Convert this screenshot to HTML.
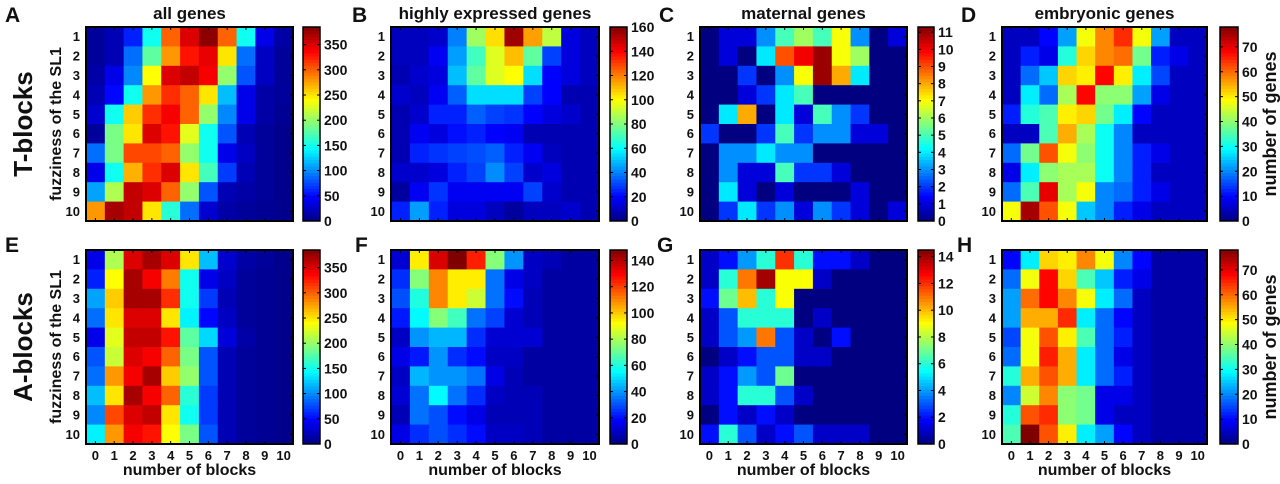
<!DOCTYPE html>
<html><head><meta charset="utf-8"><style>
body{margin:0;background:#fff;width:1280px;height:479px;overflow:hidden;font-family:"Liberation Sans",Arial,sans-serif}
svg text{font-family:"Liberation Sans",Arial,sans-serif;font-weight:bold;fill:#111}
</style></head><body>
<svg id="fig" width="1280" height="479" xmlns="http://www.w3.org/2000/svg"></svg>
<script>
const cols=[0,1,2,3,4,5,6,7,8,9,10];
const rowsLbl=[1,2,3,4,5,6,7,8,9,10];
const dataA=[[10,20,60,150,300,350,380,300,150,40,15],[10,20,90,180,280,330,345,250,90,25,10],[15,40,100,240,350,360,340,200,80,25,10],[20,50,150,280,320,300,250,120,40,15,10],[30,150,260,320,340,300,200,100,40,15,8],[10,190,250,350,330,230,150,80,20,10,5],[90,190,310,310,300,200,150,40,25,10,5],[40,150,270,320,350,250,170,70,20,10,5],[110,210,360,350,300,200,80,20,15,10,5],[280,370,360,250,160,90,30,15,10,8,5]];
const dataB=[[10,10,12,40,85,105,155,115,90,15,10],[10,10,18,45,70,95,110,75,30,15,10],[8,12,15,50,75,95,100,55,20,15,10],[12,10,18,35,55,55,55,30,20,8,8],[8,12,25,25,35,30,28,20,15,12,8],[8,18,15,22,25,20,18,8,8,8,8],[8,25,28,30,32,35,25,18,10,8,8],[12,12,15,25,30,42,30,12,15,8,8],[5,18,28,18,18,18,18,30,12,8,8],[25,45,25,15,15,10,5,10,10,12,8]];
const dataC=[[0,1,1,3,5,6,5,7,3,0,1],[0,1,0,4,9,10,11,7,6,0,0],[0,0,2,0,3,7,11,8,4,0,0],[0,0,1,2,4,5,0,0,0,0,0],[0,4,8,0,4,1,5,3,2,0,0],[2,0,0,2,5,2,3,3,1,1,0],[0,3,3,4,3,3,0,0,0,0,0],[0,3,1,1,5,2,2,1,0,0,0],[0,4,1,0,1,0,0,0,1,0,0],[0,2,4,2,3,1,3,2,1,0,1]];
const dataD=[[5,5,10,22,48,58,65,48,22,5,5],[5,12,8,32,52,58,60,38,12,8,5],[5,18,25,52,50,68,50,28,15,5,5],[5,28,18,42,68,40,40,22,8,5,5],[12,32,35,50,52,38,28,10,5,5,5],[5,5,35,55,42,30,20,5,5,5,5],[18,38,62,48,40,30,20,12,8,5,5],[8,28,40,42,42,30,20,12,5,5,5],[18,35,70,42,48,20,18,12,8,5,5],[48,75,62,48,25,20,12,8,5,5,5]];
const dataE=[[40,210,350,370,350,250,120,30,15,10,5],[60,240,370,340,290,150,40,25,10,8,5],[110,260,370,370,320,150,70,20,10,8,5],[90,250,350,350,250,140,50,25,10,8,5],[40,230,360,360,330,180,130,35,15,8,5],[80,220,350,340,300,190,80,20,10,8,5],[90,280,340,370,260,200,80,20,10,8,5],[120,250,370,340,300,160,70,20,10,8,5],[100,310,350,360,250,150,70,20,10,8,5],[140,280,340,330,240,190,80,20,10,8,5]];
const dataF=[[12,95,135,148,125,75,40,10,8,5,5],[25,75,110,95,95,35,15,10,5,5,5],[30,60,110,95,85,35,20,8,5,5,5],[22,55,75,65,35,28,12,8,5,5,5],[10,40,45,45,25,12,12,12,5,5,5],[15,22,40,25,20,10,10,5,5,5,5],[10,45,40,40,35,15,8,5,5,5,5],[12,35,55,35,25,10,8,8,5,5,5],[8,35,30,20,15,8,8,8,5,5,5],[15,25,30,25,20,10,10,8,5,5,5]];
const dataG=[[1,2,4,6,12,6,2,2,1,0,0],[1,6,11,14,9,9,1,0,0,0,0],[2,7,10,6,9,0,0,0,0,0,0],[1,3,6,6,6,0,1,0,0,0,0],[1,3,4,11,3,1,0,2,0,0,0],[0,1,2,3,3,1,1,0,0,0,0],[1,2,4,3,7,0,0,0,0,0,0],[1,2,6,6,3,1,0,0,0,0,0],[0,2,1,2,1,0,0,0,0,0,0],[2,6,3,1,2,3,1,1,1,0,0]];
const dataH=[[10,28,52,50,58,48,20,10,3,3,3],[18,48,68,52,35,25,12,8,3,3,3],[22,60,68,58,48,28,18,5,3,3,3],[22,55,55,65,28,18,10,5,3,3,3],[15,48,62,50,35,18,12,5,3,3,3],[18,48,66,55,28,18,8,5,3,3,3],[32,55,62,55,28,18,12,5,3,3,3],[20,45,58,40,38,8,8,5,3,3,3],[32,62,65,40,38,8,5,5,3,3,3],[35,78,62,50,28,22,10,5,3,3,3]];
const ticksA=[0,50,100,150,200,250,300,350];
const ticksB=[0,20,40,60,80,100,120,140,160];
const ticksC=[0,1,2,3,4,5,6,7,8,9,10,11];
const ticksD=[0,10,20,30,40,50,60,70];
const ticksF=[0,20,40,60,80,100,120,140];
const ticksG=[0,2,4,6,8,10,12,14];
const titles=["all genes","highly expressed genes","maternal genes","embryonic genes"];

const NS="http://www.w3.org/2000/svg";
const svg=document.getElementById('fig');
function mk(tag,attrs,parent,txt){const e=document.createElementNS(NS,tag);for(const k in attrs)e.setAttribute(k,attrs[k]);if(txt!==undefined)e.textContent=txt;(parent||svg).appendChild(e);return e;}
function jet(t){t=Math.max(0,Math.min(1,t));
 const f=(x)=>Math.max(0,Math.min(1,x));
 const r=f(Math.min(4*t-1.5,-4*t+4.5)),g=f(Math.min(4*t-0.5,-4*t+3.5)),b=f(Math.min(4*t+0.5,-4*t+2.5));
 return `rgb(${Math.round(r*255)},${Math.round(g*255)},${Math.round(b*255)})`;}

const panels=[
 {L:'A',data:dataA,ticks:ticksA,max:385,x0:86,x1:293,cb:303,cbw:17,row:0,col:0,lx:5},
 {L:'B',data:dataB,ticks:ticksB,max:160,x0:391,x1:599,cb:610,cbw:17,row:0,col:1,lx:352},
 {L:'C',data:dataC,ticks:ticksC,max:11.3,x0:700,x1:907,cb:918,cbw:16,row:0,col:2,lx:659},
 {L:'D',data:dataD,ticks:ticksD,max:78,x0:1002,x1:1207,cb:1220,cbw:18,row:0,col:3,lx:961},
 {L:'E',data:dataE,ticks:ticksA,max:385,x0:86,x1:293,cb:303,cbw:17,row:1,col:0,lx:5},
 {L:'F',data:dataF,ticks:ticksF,max:148,x0:391,x1:599,cb:610,cbw:17,row:1,col:1,lx:355},
 {L:'G',data:dataG,ticks:ticksG,max:14.5,x0:700,x1:907,cb:918,cbw:16,row:1,col:2,lx:657},
 {L:'H',data:dataH,ticks:ticksD,max:78,x0:1002,x1:1207,cb:1220,cbw:18,row:1,col:3,lx:957}
];
const rowY=[[27,221],[250,444]];

panels.forEach(p=>{
 const [y0,y1]=rowY[p.row];
 const g=mk('g',{});
 
 
 const cw=(p.x1-p.x0)/cols.length, ch=(y1-y0)/rowsLbl.length;
 const xs=(c)=>p.x0+c*cw, ys=(r)=>y0+r*ch;
 p.data.forEach((row,r)=>row.forEach((v,c)=>{
  const cell=mk('rect',{x:xs(c).toFixed(2),y:ys(r).toFixed(2),width:(cw+0.6).toFixed(2),height:(ch+0.6).toFixed(2),fill:jet(v/p.max)},g);
  
  
 }));
 const fr=mk('rect',{x:p.x0,y:y0,width:p.x1-p.x0,height:y1-y0,fill:'none',stroke:'#000','stroke-width':2},g);
 
 
 cols.forEach((c,i)=>{const x=xs(i)+cw/2;
  mk('line',{x1:x,x2:x,y1:y0,y2:y0+3,stroke:'#000','stroke-width':1},g);
  mk('line',{x1:x,x2:x,y1:y1,y2:y1-3,stroke:'#000','stroke-width':1},g);
  if(p.row===1){const t=mk('text',{x:x,y:y1+16,'font-size':13,'text-anchor':'middle'},g,String(c));
   
   }
 });
 rowsLbl.forEach((r,i)=>{const y=ys(i)+ch/2;
  mk('line',{x1:p.x1,x2:p.x1-3,y1:y,y2:y,stroke:'#000','stroke-width':1},g);
  const t=mk('text',{x:p.x0-6,y:y+4.5,'font-size':13,'text-anchor':'end'},g,String(r));
  
  
 });
 const cbg=mk('g',{},g);
 
 
 const N=60,hh=(y1-y0)/N;
 for(let i=0;i<N;i++){mk('rect',{x:p.cb,y:(y1-(i+1)*hh).toFixed(2),width:p.cbw,height:(hh+0.5).toFixed(2),fill:jet((i+0.5)/N)},cbg);}
 mk('rect',{x:p.cb,y:y0,width:p.cbw,height:y1-y0,fill:'none',stroke:'#000','stroke-width':1.5},cbg);
 p.ticks.forEach(tv=>{const y=y1-(tv/p.max)*(y1-y0);
  mk('line',{x1:p.cb+p.cbw,x2:p.cb+p.cbw-3,y1:y,y2:y,stroke:'#000'},cbg);
  mk('line',{x1:p.cb,x2:p.cb+3,y1:y,y2:y,stroke:'#000'},cbg);
  const t=mk('text',{x:p.cb+p.cbw+4,y:y+5,'font-size':14},cbg,String(tv));
  
  
 });
 const lt=mk('text',{x:p.lx,y:p.row===0?22:252,'font-size':21},g,p.L);
 
 
 if(p.row===0){const tt=mk('text',{x:(p.x0+p.x1)/2,y:19,'font-size':17,'text-anchor':'middle'},g,titles[p.col]);
  
  }
 else{const xt=mk('text',{x:(p.x0+p.x1)/2,y:475,'font-size':16,'text-anchor':'middle'},g,'number of blocks');
  
  }
 if(p.col===0){const cy=(y0+y1)/2;
  const yt=mk('text',{x:0,y:0,'font-size':16,'text-anchor':'middle',transform:`translate(61,${cy}) rotate(-90)`},g,'fuzziness of the SL1');
  
  
  const bt=mk('text',{x:0,y:0,'font-size':26,'text-anchor':'middle',transform:`translate(32,${cy}) rotate(-90)`},g,p.row===0?'T-blocks':'A-blocks');
  
  }
 if(p.col===3){const cy=(y0+y1)/2;
  const ct=mk('text',{x:0,y:0,'font-size':18,'text-anchor':'middle',transform:`translate(1276,${cy}) rotate(-90)`},g,'number of genes');
  
  }
});
</script>
</body></html>
